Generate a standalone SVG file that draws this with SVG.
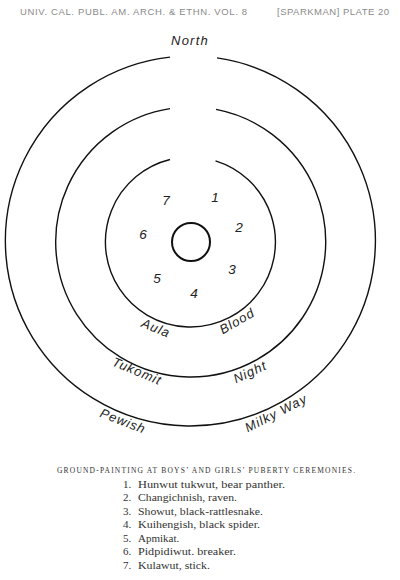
<svg xmlns="http://www.w3.org/2000/svg" width="400" height="580" viewBox="0 0 400 580">
<style>
.ring{fill:none;stroke:#111;stroke-width:1.4}
.hdr{font-family:"Liberation Sans",Arial,sans-serif;font-size:9.5px;fill:#8a8a8a}
.hand{font-family:"Liberation Sans",Arial,sans-serif;font-style:italic;font-size:13px;fill:#222;text-anchor:middle;dominant-baseline:central}
.num{font-family:"Liberation Sans",Arial,sans-serif;font-style:italic;font-size:13.5px;fill:#222;text-anchor:middle;dominant-baseline:central}
.cap{font-family:"Liberation Serif","Times New Roman",serif;font-size:7.5px;fill:#333}
.item{font-family:"Liberation Serif","Times New Roman",serif;font-size:11px;fill:#333}
</style>
<rect width="400" height="580" fill="#fff"/>
<g id="header">
<text class="hdr" x="20" y="15" textLength="227" lengthAdjust="spacing">UNIV. CAL. PUBL. AM. ARCH. &amp; ETHN. VOL. 8</text>
<text class="hdr" x="277" y="15" textLength="112" lengthAdjust="spacing">[SPARKMAN] PLATE 20</text>
</g>
<g id="rings">
<path id="ring-outer" class="ring" d="M 170 57.1 A 185 185 0 1 0 217 57.9"/>
<path id="ring-middle" class="ring" d="M 170 108.6 A 135 135 0 1 0 216 109.4"/>
<path id="ring-inner" class="ring" d="M 170 159.5 A 85 85 0 1 0 215.5 160.8"/>
<circle id="center" cx="191" cy="242" r="19" fill="none" stroke="#111" stroke-width="2"/>
</g>
<g id="labels">
<text class="hand" x="190" y="40" letter-spacing="1.2" font-size="15">North</text>
<text class="hand" transform="translate(156 328) rotate(22)" letter-spacing="1">Aula</text>
<text class="hand" transform="translate(237 321) rotate(-30)" letter-spacing="1">Blood</text>
<text class="hand" transform="translate(137 371) rotate(22.5)" letter-spacing="1">Tukomit</text>
<text class="hand" transform="translate(250 372) rotate(-25)" letter-spacing="1">Night</text>
<text class="hand" transform="translate(123 421) rotate(21)" letter-spacing="1">Pewish</text>
<text class="hand" transform="translate(276 413) rotate(-27)" letter-spacing="1">Milky Way</text>
</g>
<g id="numbers">
<text class="num" x="166" y="200">7</text>
<text class="num" x="215" y="197">1</text>
<text class="num" x="239" y="227">2</text>
<text class="num" x="143" y="234">6</text>
<text class="num" x="232" y="269">3</text>
<text class="num" x="157" y="278">5</text>
<text class="num" x="194" y="293">4</text>
</g>
<g id="caption">
<text class="cap" x="57" y="472.5" textLength="298" lengthAdjust="spacing">GROUND-PAINTING AT BOYS’ AND GIRLS’ PUBERTY CEREMONIES.</text>
<text class="item" x="123" y="487.5">1.</text><text class="item" x="138" y="487.5" textLength="147" lengthAdjust="spacingAndGlyphs">Hunwut tukwut, bear panther.</text>
<text class="item" x="123" y="501">2.</text><text class="item" x="138" y="501" textLength="99" lengthAdjust="spacingAndGlyphs">Changichnish, raven.</text>
<text class="item" x="123" y="514.5">3.</text><text class="item" x="138" y="514.5" textLength="125" lengthAdjust="spacingAndGlyphs">Showut, black-rattlesnake.</text>
<text class="item" x="123" y="528">4.</text><text class="item" x="138" y="528" textLength="122" lengthAdjust="spacingAndGlyphs">Kuihengish, black spider.</text>
<text class="item" x="123" y="541.5">5.</text><text class="item" x="138" y="541.5">Apmikat.</text>
<text class="item" x="123" y="555">6.</text><text class="item" x="138" y="555" textLength="98" lengthAdjust="spacingAndGlyphs">Pidpidiwut. breaker.</text>
<text class="item" x="123" y="568.5">7.</text><text class="item" x="138" y="568.5" textLength="72" lengthAdjust="spacingAndGlyphs">Kulawut, stick.</text>
</g>
</svg>
